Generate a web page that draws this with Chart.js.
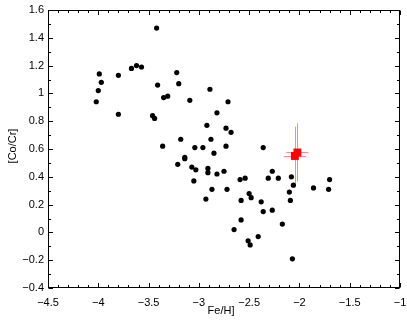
<!DOCTYPE html>
<html>
<head>
<meta charset="utf-8">
<style>
  body { margin: 0; background: #fff; }
  canvas { display: block; }
</style>
<script src="https://cdn.jsdelivr.net/npm/chart.js@4/dist/chart.umd.min.js"></script>
</head>
<body>
<canvas id="plot" width="407" height="321"></canvas>
<script>
// sample stars: [Fe/H] and [Co/Cr]
const feH = [
  -4.02, -4.00, -3.99, -3.97, -3.80, -3.80, -3.67, -3.62, -3.57, -3.42,
  -3.22, -3.20, -3.41, -3.35, -3.31, -3.09, -2.89, -2.71, -2.82, -3.46,
  -3.44, -2.92, -2.73, -2.68, -3.18, -2.88, -3.36, -3.04, -2.96, -2.73,
  -2.85, -2.36, -3.14, -3.14, -3.21, -3.07, -3.03, -2.91, -2.91, -2.82,
  -2.75, -3.05, -2.87, -2.72, -2.93, -2.59, -2.54, -2.31, -2.50, -2.48,
  -2.58, -2.38, -2.36, -2.58, -2.65, -2.51, -2.49, -2.41, -2.27, -2.21,
  -2.08, -2.06, -2.10, -2.09, -2.27, -2.17, -2.07, -1.86, -1.70, -1.71
];
const coCr = [
  0.94, 1.02, 1.14, 1.08, 1.13, 0.85, 1.18, 1.20, 1.19, 1.47,
  1.15, 1.07, 1.06, 0.97, 0.98, 0.95, 1.03, 0.94, 0.86, 0.84,
  0.82, 0.77, 0.75, 0.72, 0.67, 0.67, 0.62, 0.61, 0.61, 0.62,
  0.57, 0.61, 0.54, 0.53, 0.49, 0.47, 0.45, 0.46, 0.43, 0.42,
  0.44, 0.37, 0.31, 0.31, 0.24, 0.38, 0.39, 0.39, 0.28, 0.25,
  0.23, 0.22, 0.15, 0.09, 0.02, -0.06, -0.09, -0.03, 0.44, 0.39,
  0.40, 0.34, 0.29, 0.23, 0.16, 0.06, -0.19, 0.32, 0.38, 0.31
];

// the highlighted star (two measurements) with errors
const starFeH = [-2.045, -2.02];
const starCoCr = [0.55, 0.575];
const starFeErr = [0.11, 0.11];
const starCoErr = [0.21, 0.21];

const xMin = -4.5, xMax = -1, xStep = 0.5, xMinor = 0.1;
const yMin = -0.4, yMax = 1.6, yStep = 0.2, yMinor = 0.1;

const FONT = '"Liberation Sans", Arial, Helvetica, sans-serif';

function fmt(v) {
  const r = Math.round(v * 10) / 10;
  return String(r).replace('-', '\u2212');
}

// red error bars, drawn under the squares
const errorBars = {
  id: 'errorBars',
  beforeDatasetsDraw(chart) {
    const ctx = chart.ctx;
    const xs = chart.scales.x, ys = chart.scales.y;
    ctx.save();
    ctx.strokeStyle = 'rgba(255,60,60,0.6)';
    ctx.lineWidth = 1;
    for (let i = 0; i < starFeH.length; i++) {
      const px = Math.round(xs.getPixelForValue(starFeH[i])) + 0.5;
      const py = Math.round(ys.getPixelForValue(starCoCr[i])) + 0.5;
      ctx.beginPath();
      ctx.moveTo(px, ys.getPixelForValue(starCoCr[i] + starCoErr[i]));
      ctx.lineTo(px, ys.getPixelForValue(starCoCr[i] - starCoErr[i]));
      ctx.moveTo(xs.getPixelForValue(starFeH[i] - starFeErr[i]), py);
      ctx.lineTo(xs.getPixelForValue(starFeH[i] + starFeErr[i]), py);
      ctx.stroke();
    }
    ctx.restore();
  }
};

// box, inward ticks on all sides, axis titles
const frame = {
  id: 'frame',
  afterDraw(chart) {
    const ctx = chart.ctx;
    const a = chart.chartArea;
    const xs = chart.scales.x, ys = chart.scales.y;
    ctx.save();
    ctx.strokeStyle = '#000';
    ctx.lineWidth = 1;
    const L = Math.round(a.left) + 0.5, R = Math.round(a.right) - 0.5;
    const T = Math.round(a.top) + 0.5, B = Math.round(a.bottom) - 0.5;
    ctx.strokeRect(L, T, R - L, B - T);

    ctx.beginPath();
    const nx = Math.round((xMax - xMin) / xMinor);
    for (let i = 0; i <= nx; i++) {
      const v = xMin + i * xMinor;
      const len = (i % 5 === 0) ? 4.5 : 2.5;
      const p = Math.round(xs.getPixelForValue(v)) + 0.5;
      ctx.moveTo(p, B); ctx.lineTo(p, B - len);
      ctx.moveTo(p, T); ctx.lineTo(p, T + len);
    }
    const ny = Math.round((yMax - yMin) / yMinor);
    for (let i = 0; i <= ny; i++) {
      const v = yMin + i * yMinor;
      const len = (i % 2 === 0) ? 4.5 : 2.5;
      const p = Math.round(ys.getPixelForValue(v)) + 0.5;
      ctx.moveTo(L, p); ctx.lineTo(L + len, p);
      ctx.moveTo(R, p); ctx.lineTo(R - len, p);
    }
    ctx.stroke();

    ctx.fillStyle = '#000';
    ctx.font = '11px ' + FONT;
    ctx.textAlign = 'center';
    ctx.textBaseline = 'middle';
    ctx.fillText('Fe/H]', 221, 311);
    ctx.translate(13, 146);
    ctx.rotate(-Math.PI / 2);
    ctx.fillText('[Co/Cr]', 0, 0);
    ctx.restore();
  }
};

new Chart(document.getElementById('plot'), {
  type: 'scatter',
  data: {
    datasets: [
      {
        label: 'stars',
        data: feH.map((x, i) => ({ x: x, y: coCr[i] })),
        backgroundColor: '#000',
        borderWidth: 0,
        pointRadius: 2.6,
        pointHoverRadius: 2.6
      },
      {
        label: 'target',
        data: starFeH.map((x, i) => ({ x: x, y: starCoCr[i] })),
        backgroundColor: '#ff0000',
        borderWidth: 0,
        pointStyle: 'rect',
        pointRadius: 5.6,
        pointHoverRadius: 5.6
      }
    ]
  },
  options: {
    responsive: false,
    devicePixelRatio: 1,
    animation: false,
    layout: { padding: { left: 0, top: 10, right: 7, bottom: 0 } },
    plugins: {
      legend: { display: false },
      tooltip: { enabled: false }
    },
    scales: {
      x: {
        type: 'linear',
        min: xMin, max: xMax,
        afterFit(s) { s.height = 33; s.paddingLeft = 0; s.paddingRight = 0; },
        grid: { display: false, drawTicks: false },
        border: { display: false },
        ticks: {
          stepSize: xStep,
          padding: 8,
          color: '#000',
          font: { family: FONT, size: 11 },
          maxRotation: 0,
          callback: v => fmt(v)
        }
      },
      y: {
        type: 'linear',
        min: yMin, max: yMax,
        afterFit(s) { s.width = 48; s.paddingTop = 0; s.paddingBottom = 0; },
        grid: { display: false, drawTicks: false },
        border: { display: false },
        ticks: {
          stepSize: yStep,
          padding: 4,
          color: '#000',
          font: { family: FONT, size: 11 },
          callback: v => fmt(v)
        }
      }
    }
  },
  plugins: [errorBars, frame]
});
</script>
</body>
</html>
